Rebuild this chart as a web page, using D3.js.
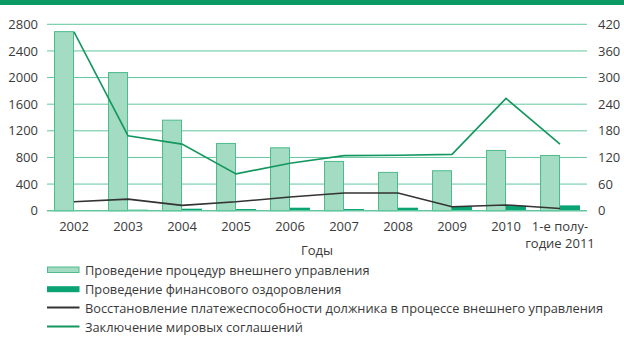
<!DOCTYPE html>
<html>
<head>
<meta charset="utf-8">
<script src="https://cdn.jsdelivr.net/npm/d3@7"></script>
<style>
  html, body { margin: 0; padding: 0; background: #fff; }
  svg { display: block; }
  text { font-family: "Open Sans", "Noto Sans", sans-serif; fill: #3a3a3a; }
</style>
</head>
<body>
<script>
// Категории (годы) и подписи оси X
const categories = ["2002", "2003", "2004", "2005", "2006", "2007", "2008", "2009", "2010", "2011H1"];
const categoryLabels = [["2002"], ["2003"], ["2004"], ["2005"], ["2006"], ["2007"], ["2008"], ["2009"], ["2010"], ["1-е полу-", "годие 2011"]];

// Столбцы (левая ось)
const externalManagement = [2690, 2075, 1360, 1010, 945, 740, 575, 600, 905, 830];
const financialRecovery = [0, 15, 30, 25, 45, 25, 45, 65, 75, 80];

// Линии (правая ось)
const solvencyRestored = [20, 26, 12, 20, 31, 40, 40, 9, 13, 5];
const settlements = [403, 169, 150, 83, 107, 124, 125, 127, 253, 150];

// Деления осей
const leftTicks = [0, 400, 800, 1200, 1600, 2000, 2400, 2800];
const rightTicks = [0, 60, 120, 180, 240, 300, 360, 420];

const legendItems = [
  { label: "Проведение процедур внешнего управления", kind: "light" },
  { label: "Проведение финансового оздоровления", kind: "dark" },
  { label: "Восстановление платежеспособности должника в процессе внешнего управления", kind: "black" },
  { label: "Заключение мировых соглашений", kind: "green" }
];

const W = 624, H = 337;
const plot = { left: 47, right: 587, top: 24.3, bottom: 210.7 };
const colors = {
  stripe: "#0b9a63",
  grid: "#62c79c",
  lightFill: "#a3dbc3",
  lightStroke: "#4dbb8b",
  dark: "#0aa374",
  black: "#333333",
  green: "#14975f"
};

const svg = d3.select("body").append("svg").attr("width", W).attr("height", H);

// Верхняя полоса
svg.append("rect").attr("x", 0).attr("y", 0).attr("width", W).attr("height", 5).attr("fill", colors.stripe);

const x0 = d3.scaleBand().domain(categories).range([plot.left, plot.right]).paddingInner(0.26).paddingOuter(0.13);
const x1 = d3.scaleBand().domain(["a", "b"]).range([0, x0.bandwidth()]);
const yL = d3.scaleLinear().domain([0, 2800]).range([plot.bottom, plot.top]);
const yR = d3.scaleLinear().domain([0, 420]).range([plot.bottom, plot.top]);
const cx = c => x0(c) + x0.bandwidth() / 2;

// Сетка
svg.append("g").selectAll("line").data(leftTicks.filter(t => t > 0)).join("line")
  .attr("x1", plot.left).attr("x2", plot.right)
  .attr("y1", d => yL(d)).attr("y2", d => yL(d))
  .attr("stroke", colors.grid).attr("stroke-width", 1);

// Левая ось
const axL = svg.append("g").attr("transform", `translate(${plot.left - 9},0)`)
  .call(d3.axisLeft(yL).tickValues(leftTicks).tickFormat(d3.format("d")).tickSize(0).tickPadding(0));
axL.select(".domain").remove();
axL.selectAll("text").attr("font-size", 13).attr("fill", "#3a3a3a").style("font-family", "'Open Sans', sans-serif");

// Правая ось
const axR = svg.append("g").attr("transform", `translate(${plot.right + 11},0)`)
  .call(d3.axisRight(yR).tickValues(rightTicks).tickFormat(d3.format("d")).tickSize(0).tickPadding(0));
axR.select(".domain").remove();
axR.selectAll("text").attr("font-size", 13).attr("fill", "#3a3a3a").style("font-family", "'Open Sans', sans-serif");

// Столбцы
svg.append("g").selectAll("rect").data(categories).join("rect")
  .attr("x", (c) => x0(c) + x1("a") + 0.5)
  .attr("y", (c, i) => yL(externalManagement[i]))
  .attr("width", x1.bandwidth() - 1)
  .attr("height", (c, i) => yL(0) - yL(externalManagement[i]))
  .attr("fill", colors.lightFill).attr("stroke", colors.lightStroke).attr("stroke-width", 1);

svg.append("g").selectAll("rect").data(categories).join("rect")
  .attr("x", (c) => x0(c) + x1("b"))
  .attr("y", (c, i) => yL(financialRecovery[i]))
  .attr("width", x1.bandwidth())
  .attr("height", (c, i) => yL(0) - yL(financialRecovery[i]))
  .attr("fill", colors.dark);

// Базовая линия
svg.append("line").attr("x1", plot.left).attr("x2", plot.right)
  .attr("y1", plot.bottom).attr("y2", plot.bottom)
  .attr("stroke", colors.grid).attr("stroke-width", 1.5);

// Линии
const lineR = d3.line().x((d, i) => cx(categories[i])).y(d => yR(d));
svg.append("path").datum(solvencyRestored).attr("d", lineR)
  .attr("fill", "none").attr("stroke", colors.black).attr("stroke-width", 1.6);
svg.append("path").datum(settlements).attr("d", lineR)
  .attr("fill", "none").attr("stroke", colors.green).attr("stroke-width", 1.6);

// Подписи оси X
const xl = svg.append("g").selectAll("text").data(categories).join("text")
  .attr("x", c => cx(c)).attr("y", 231)
  .attr("text-anchor", "middle").attr("font-size", 13);
xl.each(function (c, i) {
  const t = d3.select(this);
  categoryLabels[i].forEach((line, k) => {
    t.append("tspan").attr("x", cx(c)).attr("dy", k === 0 ? 0 : 16.5).text(line);
  });
});

svg.append("text").attr("x", (plot.left + plot.right) / 2).attr("y", 254.5)
  .attr("text-anchor", "middle").attr("font-size", 13).text("Годы");

// Легенда
const lg = svg.append("g");
legendItems.forEach((it, i) => {
  const y = 270 + i * 19.2;
  if (it.kind === "light") {
    lg.append("rect").attr("x", 47.5).attr("y", y - 3).attr("width", 31.5).attr("height", 5.5)
      .attr("fill", colors.lightFill).attr("stroke", colors.lightStroke).attr("stroke-width", 1);
  } else if (it.kind === "dark") {
    lg.append("rect").attr("x", 47).attr("y", y - 3).attr("width", 32.5).attr("height", 6)
      .attr("fill", colors.dark);
  } else {
    lg.append("line").attr("x1", 47).attr("x2", 79.5).attr("y1", y - 1).attr("y2", y - 1)
      .attr("stroke", it.kind === "black" ? colors.black : colors.green).attr("stroke-width", 2);
  }
  lg.append("text").attr("x", 85).attr("y", y + 4.5).attr("font-size", 12.8).text(it.label);
});
</script>
</body>
</html>
